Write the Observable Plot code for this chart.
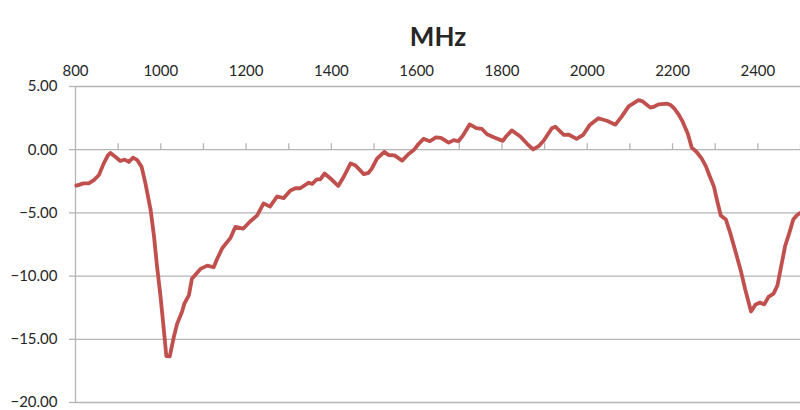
<!DOCTYPE html>
<html>
<head>
<meta charset="utf-8">
<script src="https://cdn.jsdelivr.net/npm/d3@7"></script>
<script src="https://cdn.jsdelivr.net/npm/@observablehq/plot@0.6"></script>
<style>
  html, body { margin: 0; padding: 0; background: #fff; }
  #chart svg { display: block; }
</style>
</head>
<body>
<div id="chart"></div>
<script>
const freqs = [802,819,831,843,855,866,876,882,894,905,915,925,935,945,955,964,976,984,991,999,1006,1013,1021,1030,1038,1050,1055,1066,1073,1093,1109,1124,1132,1144,1163,1175,1193,1210,1226,1241,1256,1273,1288,1304,1316,1327,1347,1355,1366,1374,1384,1402,1416,1429,1445,1456,1476,1487,1495,1507,1524,1534,1548,1566,1581,1593,1605,1616,1631,1645,1657,1675,1687,1698,1710,1724,1740,1753,1765,1782,1802,1808,1823,1843,1859,1873,1886,1898,1917,1925,1945,1956,1975,1991,2006,2026,2046,2066,2081,2097,2120,2130,2148,2155,2167,2188,2195,2203,2214,2224,2236,2245,2256,2268,2278,2286,2297,2304,2313,2325,2335,2347,2359,2370,2384,2395,2405,2415,2425,2437,2446,2452,2464,2474,2483,2491,2499];
const values = [-2.84,-2.66,-2.66,-2.4,-2.0,-1.1,-0.45,-0.26,-0.58,-0.89,-0.78,-0.97,-0.63,-0.83,-1.36,-2.66,-4.74,-6.83,-9.17,-11.5,-13.86,-16.33,-16.35,-14.9,-13.8,-12.8,-12.2,-11.5,-10.2,-9.43,-9.17,-9.3,-8.65,-7.8,-7.0,-6.1,-6.25,-5.66,-5.2,-4.25,-4.5,-3.7,-3.83,-3.23,-3.05,-3.05,-2.61,-2.71,-2.34,-2.34,-1.88,-2.4,-2.87,-2.14,-1.09,-1.23,-1.93,-1.83,-1.48,-0.7,-0.17,-0.42,-0.45,-0.86,-0.34,-0.03,0.47,0.86,0.67,0.98,0.94,0.56,0.76,0.67,1.2,2.0,1.7,1.64,1.22,0.96,0.7,0.98,1.53,1.04,0.47,0.02,0.28,0.73,1.7,1.82,1.18,1.2,0.86,1.2,1.96,2.49,2.29,1.98,2.64,3.43,3.92,3.82,3.33,3.38,3.59,3.64,3.54,3.3,2.8,2.2,1.25,0.16,-0.16,-0.68,-1.3,-2.0,-2.92,-3.96,-5.2,-5.52,-6.56,-8.0,-9.43,-11.0,-12.8,-12.24,-12.09,-12.24,-11.64,-11.38,-10.73,-9.69,-7.61,-6.56,-5.52,-5.21,-5.0];
const xTickLabels = [800,1000,1200,1400,1600,1800,2000,2200,2400];
const xMinorTicks = [900,1000,1100,1200,1300,1400,1500,1600,1700,1800,1900,2000,2100,2200,2300,2400,2500];
const yTicks = [5,0,-5,-10,-15,-20];
const titleText = "MHz";

const data = freqs.map((f, i) => ({f, v: values[i]}));
const gridColor = "#b4b4b4";
const textColor = "#262626";

const chart = Plot.plot({
  width: 800,
  height: 410,
  marginTop: 86,
  marginLeft: 75,
  marginRight: 0,
  marginBottom: 8,
  style: {fontFamily: "Lato, 'Open Sans', sans-serif", fontSize: "15px", color: textColor, background: "#fff"},
  x: {domain: [800, 2500], label: null},
  y: {domain: [-20, 5], label: null},
  marks: [
    Plot.gridY(yTicks, {stroke: gridColor, strokeOpacity: 1, strokeWidth: 1.3}),
    Plot.axisY({ticks: yTicks, label: null, tickFormat: d3.format(".2f"), tickSize: 6, tickPadding: 12, stroke: gridColor, strokeWidth: 1.3, fill: textColor, fontSize: 15}),
    Plot.ruleX([800], {stroke: gridColor, strokeWidth: 1.3}),
    Plot.ruleX(xMinorTicks, {x: d => d, y1: 0, y2: 0, insetTop: -6, stroke: gridColor, strokeWidth: 1.3}),
    Plot.axisX({anchor: "top", ticks: xTickLabels, label: null, tickFormat: d3.format("d"), tickSize: 0, tickPadding: 11, fill: textColor, fontSize: 15}),
    Plot.line(data, {x: "f", y: "v", stroke: "#c0504d", strokeWidth: 3.8, strokeLinejoin: "round", strokeLinecap: "round"}),
    Plot.text([titleText], {frameAnchor: "top", dy: -59, fontSize: 26, fontWeight: "bold", fill: textColor})
  ]
});
document.getElementById("chart").append(chart);
</script>
</body>
</html>
